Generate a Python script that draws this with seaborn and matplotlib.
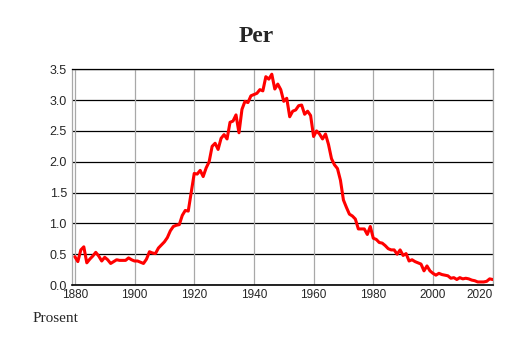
import matplotlib
matplotlib.use("Agg")
import matplotlib.pyplot as plt
from matplotlib.ticker import MultipleLocator
import seaborn as sns
import pandas as pd

# Share of the population named "Per", by year
years = list(range(1880, 2021))
share = [
    0.46, 0.38, 0.57, 0.62, 0.36, 0.42, 0.47, 0.53, 0.47, 0.39,
    0.45, 0.41, 0.35, 0.38, 0.41, 0.40, 0.40, 0.40, 0.44, 0.41,
    0.39, 0.39, 0.37, 0.35, 0.42, 0.54, 0.52, 0.51, 0.60, 0.65,
    0.70, 0.77, 0.88, 0.95, 0.97, 0.98, 1.13, 1.21, 1.20, 1.50,
    1.81, 1.80, 1.86, 1.76, 1.90, 2.00, 2.25, 2.30, 2.20, 2.38,
    2.44, 2.37, 2.64, 2.66, 2.76, 2.47, 2.85, 2.98, 2.96, 3.07,
    3.09, 3.11, 3.17, 3.15, 3.38, 3.34, 3.42, 3.18, 3.26, 3.17,
    2.98, 3.03, 2.73, 2.82, 2.84, 2.91, 2.92, 2.77, 2.82, 2.75,
    2.41, 2.50, 2.45, 2.37, 2.45, 2.28, 2.05, 1.95, 1.89, 1.70,
    1.38, 1.26, 1.15, 1.12, 1.07, 0.91, 0.91, 0.91, 0.82, 0.95,
    0.76, 0.74, 0.69, 0.68, 0.64, 0.59, 0.57, 0.57, 0.50, 0.57,
    0.48, 0.51, 0.39, 0.41, 0.38, 0.36, 0.34, 0.23, 0.31, 0.23,
    0.19, 0.16, 0.19, 0.17, 0.16, 0.15, 0.11, 0.12, 0.09, 0.12,
    0.10, 0.11, 0.10, 0.08, 0.07, 0.05, 0.05, 0.05, 0.06, 0.10, 0.09,
]
x_ticks = [1880, 1900, 1920, 1940, 1960, 1980, 2000, 2020]
y_ticks = [0.0, 0.5, 1.0, 1.5, 2.0, 2.5, 3.0, 3.5]

df = pd.DataFrame({"year": years, "share": share})

sns.set_style("white")
plt.rcParams["font.family"] = ["Liberation Sans", "DejaVu Sans"]

fig = plt.figure(figsize=(5.14, 3.43), dpi=100)
ax = fig.add_axes([0.141, 0.169, 0.818, 0.629])

sns.lineplot(data=df, x="year", y="share", ax=ax, color="#ff0000",
             linewidth=2.2, zorder=3)

ax.set_xlim(1879.2, 2020.1)
ax.set_ylim(0, 3.5)
ax.set_xticks(x_ticks)
ax.set_yticks(y_ticks)
ax.set_yticklabels([f"{v:.1f}" for v in y_ticks])
ax.xaxis.set_minor_locator(MultipleLocator(5))

ax.grid(False)
for v in y_ticks:
    ax.axhline(v, color="black", linewidth=0.9, zorder=1)
for v in x_ticks:
    ax.axvline(v, color="#a8a8a8", linewidth=0.9, zorder=1)

for side in ("left", "right"):
    ax.spines[side].set_color("#a8a8a8")
    ax.spines[side].set_linewidth(0.9)
ax.spines["top"].set_color("black")
ax.spines["top"].set_linewidth(0.9)
ax.spines["bottom"].set_color("black")
ax.spines["bottom"].set_linewidth(1.2)

ax.tick_params(axis="x", which="both", direction="in", length=3,
               width=0.6, color="#555555", labelsize=8.5, pad=3)
ax.tick_params(axis="x", which="major", length=0)
ax.tick_params(axis="y", length=0, labelsize=9, pad=4)
# last year label sits inside the frame
ax.get_xticklabels()[-1].set_horizontalalignment("right")

ax.set_xlabel("")
ax.set_ylabel("")

fig.text(0.498, 0.895, "Per", ha="center", va="center",
         fontsize=17, fontweight="bold", family="Liberation Serif")
fig.text(0.064, 0.072, "Prosent", ha="left", va="center",
         fontsize=11, family="Liberation Serif")

fig.savefig("out.png", dpi=100)
